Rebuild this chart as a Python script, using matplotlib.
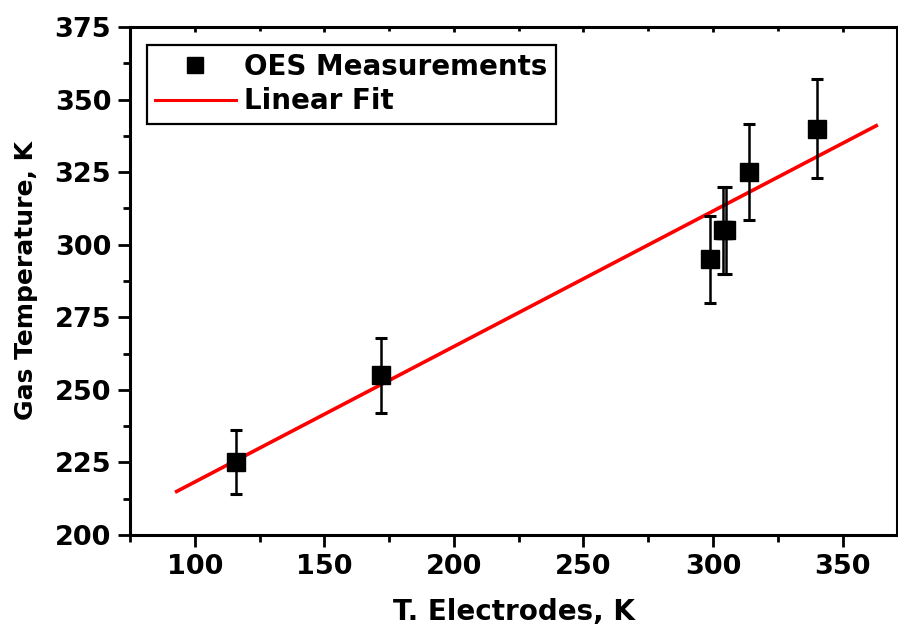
import matplotlib
matplotlib.use("Agg")
import matplotlib.pyplot as plt
from matplotlib.ticker import MultipleLocator
from matplotlib.lines import Line2D

# Data
t_electrodes = [116, 172, 299, 304, 305, 314, 340]
gas_temp = [225, 255, 295, 305, 305, 325, 340]
gas_err = [11, 13, 15, 15, 15, 16.5, 17]

fit_x = [93, 363]
fit_y = [215, 341]

x_ticks = [100, 150, 200, 250, 300, 350]
y_ticks = [200, 225, 250, 275, 300, 325, 350, 375]

plt.rcParams['font.family'] = ['DejaVu Sans']
plt.rcParams['font.weight'] = 'bold'

fig = plt.figure(figsize=(8.98, 6.33), dpi=100)
ax = fig.add_axes([130/898, 98/633, 767/898, 508/633])

ax.errorbar(t_electrodes, gas_temp, yerr=gas_err, fmt='s', color='black',
            markersize=13, ecolor='black', elinewidth=1.8, capsize=4.3,
            capthick=2.2, zorder=3)
ax.plot(fit_x, fit_y, color='red', linewidth=2.6, zorder=2)

ax.set_xlim(75, 371)
ax.set_ylim(200, 375)
ax.set_xticks(x_ticks)
ax.set_yticks(y_ticks)
ax.xaxis.set_minor_locator(MultipleLocator(25))
ax.yaxis.set_minor_locator(MultipleLocator(12.5))

for s in ax.spines.values():
    s.set_linewidth(2.2)

ax.tick_params(which='both', direction='out', width=2, labelsize=19.5, pad=5)
ax.tick_params(which='major', length=8.5)
ax.tick_params(which='minor', length=5)
ax.tick_params(which='both', top=True, right=True)
# top/right ticks point inward and are shorter
for tick in ax.xaxis.get_major_ticks():
    tick.tick2line.set_marker(3)
    tick.tick2line.set_markersize(3.8)
for tick in ax.xaxis.get_minor_ticks():
    tick.tick2line.set_marker(3)
    tick.tick2line.set_markersize(2.8)
for tick in ax.yaxis.get_major_ticks():
    tick.tick2line.set_marker(1)
    tick.tick2line.set_markersize(3.8)
for tick in ax.yaxis.get_minor_ticks():
    tick.tick2line.set_marker(1)
    tick.tick2line.set_markersize(2.8)

for lab in ax.get_xticklabels() + ax.get_yticklabels():
    lab.set_fontweight('bold')

ax.set_xlabel('T. Electrodes, K', fontsize=20, fontweight='bold', labelpad=13)
ax.set_ylabel('Gas Temperature, K', fontsize=18, fontweight='bold', labelpad=12)

handles = [Line2D([], [], marker='s', ls='none', color='black', markersize=11),
           Line2D([], [], color='red', linewidth=2.2)]
leg = ax.legend(handles=handles, labels=['OES Measurements', 'Linear Fit'],
                loc='upper left', bbox_to_anchor=(0.022, 0.965), borderaxespad=0,
                prop={'size': 20, 'weight': 'bold'}, frameon=True, fancybox=False,
                edgecolor='black', framealpha=1, borderpad=0.3, handlelength=2.9,
                handletextpad=0.3, labelspacing=0.22)
leg.get_frame().set_linewidth(1.6)

fig.savefig('out.png', dpi=100, facecolor='white')
